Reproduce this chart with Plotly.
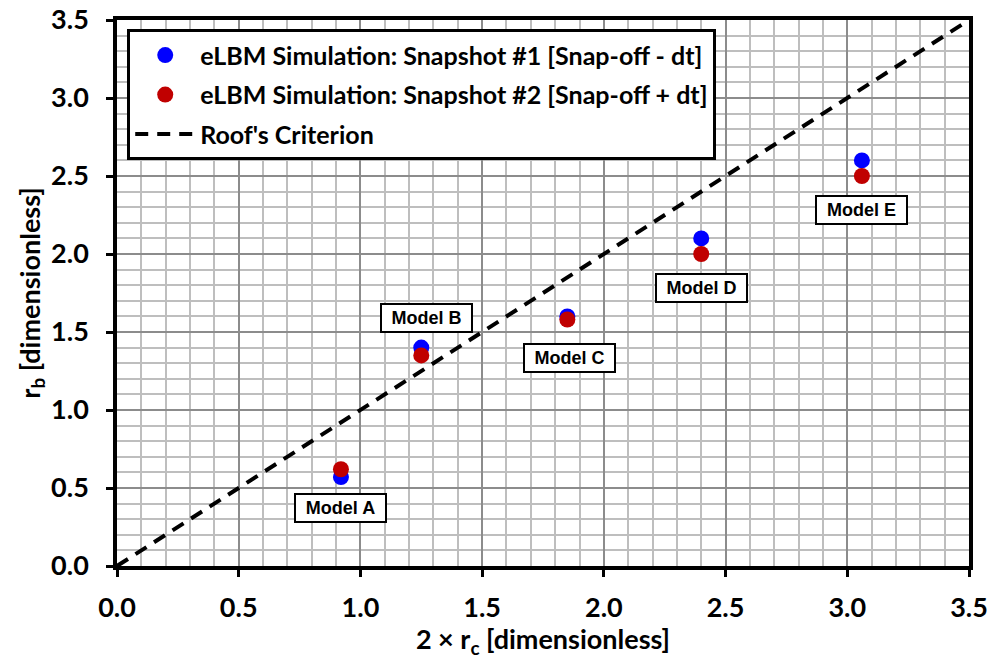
import plotly.graph_objects as go

# Model labels and coordinates (2*rc on x, rb on y)
models = ["Model A", "Model B", "Model C", "Model D", "Model E"]
x_rc2 = [0.92, 1.25, 1.85, 2.40, 3.06]
rb_snap1 = [0.57, 1.40, 1.60, 2.10, 2.60]
rb_snap2 = [0.62, 1.35, 1.58, 2.00, 2.50]

# Roof's criterion: rb = 2*rc
roof_x = [0.0, 3.5]
roof_y = [0.0, 3.5]

# Label box anchor points in data units
label_x = [0.92, 1.27, 1.86, 2.40, 3.06]
label_y = [0.375, 1.59, 1.335, 1.78, 2.28]

tick_vals = [0.0, 0.5, 1.0, 1.5, 2.0, 2.5, 3.0, 3.5]

FONT = "Lato"

fig = go.Figure()
fig.add_trace(go.Scatter(
    x=x_rc2, y=rb_snap1, mode="markers", legendgroup="s1",
    name="eLBM Simulation: Snapshot #1 [Snap-off - dt]",
    marker=dict(color="#0000FF", size=16),
))
fig.add_trace(go.Scatter(
    x=x_rc2, y=rb_snap2, mode="markers", legendgroup="s2",
    name="eLBM Simulation: Snapshot #2 [Snap-off + dt]",
    marker=dict(color="#C00000", size=16),
))
fig.add_trace(go.Scatter(
    x=roof_x, y=roof_y, mode="lines", legendgroup="roof",
    name="Roof's Criterion",
    line=dict(color="black", width=4, dash="13px,9px"),
))

for name, lx, ly in zip(models, label_x, label_y):
    fig.add_annotation(
        x=lx, y=ly, xref="x", yref="y", text=f"<b>{name}</b>",
        showarrow=False, bgcolor="white", bordercolor="black", borderwidth=2,
        borderpad=3, width=83,
        font=dict(family="Liberation Sans", size=18, color="black"),
    )

axis_common = dict(
    range=[0, 3.5], tickvals=tick_vals, tickformat=".1f",
    showline=True, linecolor="black", linewidth=3.5, mirror=True,
    ticks="outside", ticklen=7, tickwidth=2.5, tickcolor="black",
    showgrid=True, gridcolor="#8C8C8C", gridwidth=1.5,
    minor=dict(dtick=0.1, showgrid=True, gridcolor="#BEBEBE", gridwidth=1.5),
    zeroline=False, automargin=False,
    tickfont=dict(family=FONT, size=27, color="black", weight="bold"),
)

fig.update_xaxes(
    **axis_common,
    ticklabelstandoff=8,
    title=dict(text="2 × r<sub>c</sub> [dimensionless]",
               font=dict(family=FONT, size=27, color="black", weight="bold"),
               standoff=0),
)
fig.update_yaxes(
    **axis_common,
    ticklabelstandoff=12,
    title=dict(text="r<sub>b</sub> [dimensionless]",
               font=dict(family=FONT, size=27, color="black", weight="bold"),
               standoff=4),
)

fig.update_layout(
    width=1001, height=659,
    margin=dict(l=117, r=32, t=20, b=93, autoexpand=False),
    paper_bgcolor="white", plot_bgcolor="white",
    showlegend=True,
    legend=dict(
        x=0.012, y=0.983, xanchor="left", yanchor="top",
        bgcolor="white", bordercolor="black", borderwidth=3,
        font=dict(family=FONT, size=25, color="black", weight="bold"),
        itemwidth=60, tracegroupgap=4,
    ),
)

fig.write_html("out.html")
